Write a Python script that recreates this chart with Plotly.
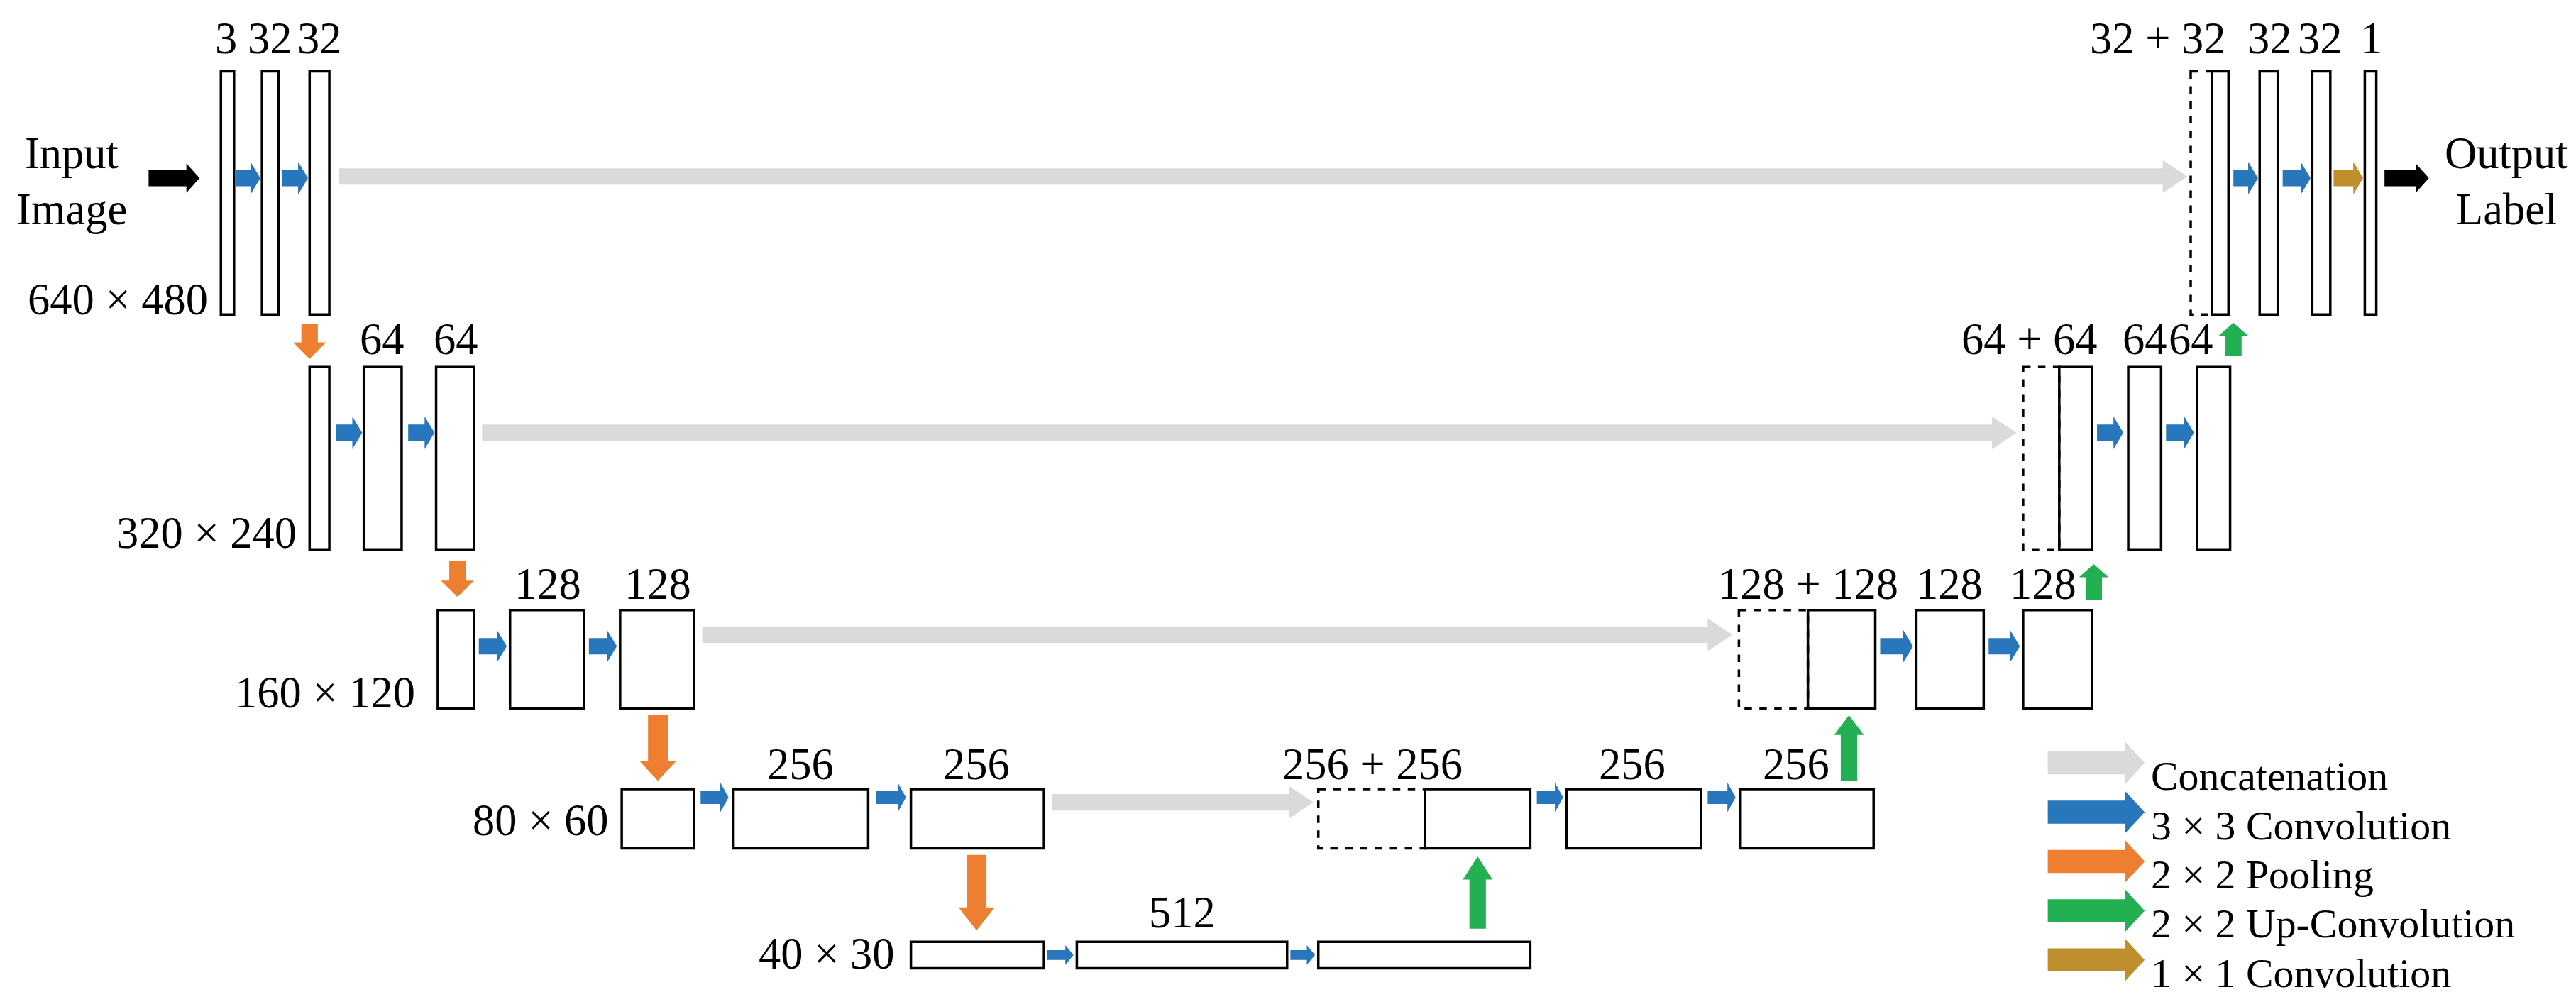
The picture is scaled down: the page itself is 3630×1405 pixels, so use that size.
import plotly.graph_objects as go

W, H = 1568, 607
S = 3630 / 1568
FONT = "Liberation Serif"

# boxes: (x0, x1, y0, y1, dashed)
boxes = [
    (131, 139, 40, 188, False), (156, 166, 40, 188, False), (185, 197, 40, 188, False),
    (1330, 1343, 40, 188, True), (1343, 1353, 40, 188, False), (1372, 1383, 40, 188, False),
    (1404, 1415, 40, 188, False), (1436, 1443, 40, 188, False),
    (185, 197, 220, 331, False), (218, 241, 220, 331, False), (262, 285, 220, 331, False),
    (1228, 1250, 220, 331, True), (1250, 1270, 220, 331, False), (1292, 1312, 220, 331, False),
    (1334, 1354, 220, 331, False),
    (263, 285, 368, 428, False), (307, 352, 368, 428, False), (374, 419, 368, 428, False),
    (1055, 1097, 368, 428, True), (1097, 1138, 368, 428, False), (1163, 1204, 368, 428, False),
    (1228, 1270, 368, 428, False),
    (375, 419, 477, 513, False), (443, 525, 477, 513, False), (551, 632, 477, 513, False),
    (799, 864, 477, 513, True), (864, 928, 477, 513, False), (950, 1032, 477, 513, False),
    (1056, 1137, 477, 513, False),
    (551, 632, 570, 586, False), (652, 780, 570, 586, False), (799, 928, 570, 586, False),
]

# horizontal arrows: (x_start, x_end, y, shaft_half, head_half, head_len, color)
GRAY, BLUE, ORANGE, GREEN, GOLD, BLACK = "#d9dadb", "#2876bb", "#ee7f31", "#22b052", "#bf8f2e", "#000000"
h_arrows = [
    (87, 118, 105, 5, 9, 8, BLACK), (1448, 1475, 105, 5, 9, 8, BLACK),
    (140, 155, 105, 5, 10, 6, BLUE), (168, 184, 105, 5, 10, 6, BLUE),
    (1356, 1371, 105, 5, 10, 6, BLUE), (1386, 1403, 105, 5, 10, 6, BLUE),
    (1417, 1435, 105, 5, 10, 6, GOLD),
    (203, 1328, 104, 5, 10, 15, GRAY), (290, 1224, 260, 5, 10, 15, GRAY),
    (424, 1051, 383, 5, 10, 15, GRAY), (637, 796, 485, 5, 10, 15, GRAY),
    (201, 217, 260, 5, 10, 6, BLUE), (245, 261, 260, 5, 10, 6, BLUE),
    (1273, 1289, 260, 5, 10, 6, BLUE), (1315, 1332, 260, 5, 10, 6, BLUE),
    (288, 305, 390, 5, 10, 6, BLUE), (355, 372, 390, 5, 10, 6, BLUE),
    (1141, 1161, 390, 5, 10, 6, BLUE), (1207, 1226, 390, 5, 10, 6, BLUE),
    (423, 440, 482, 4, 9, 5, BLUE), (530, 548, 482, 4, 9, 5, BLUE),
    (932, 948, 482, 4, 9, 5, BLUE), (1036, 1053, 482, 4, 9, 5, BLUE),
    (634, 650, 578, 3, 6, 5, BLUE), (782, 797, 578, 3, 6, 5, BLUE),
]
# vertical arrows: (x, y_start, y_end, shaft_half, head_half, head_len, color)
v_arrows = [
    (185, 194, 215, 5, 10, 10, ORANGE), (275, 338, 360, 5, 10, 10, ORANGE),
    (397, 432, 472, 6, 11, 12, ORANGE), (591, 517, 563, 6, 11, 14, ORANGE),
    (1356, 213, 193, 5, 9, 8, GREEN), (1271, 362, 340, 5, 9, 8, GREEN),
    (1122, 472, 432, 5, 9, 12, GREEN), (896, 562, 518, 5, 9, 14, GREEN),
]

legend_labels = ["Concatenation", "3 × 3 Convolution", "2 × 2 Pooling", "2 × 2 Up-Convolution", "1 × 1 Convolution"]
legend_colors = [GRAY, BLUE, ORANGE, GREEN, GOLD]
legend_y = [461, 491, 521, 551, 581]

# text labels: (x, y, text, anchor)
labels = [
    (134, 20, "3", "center"), (161, 20, "32", "center"), (191, 20, "32", "center"),
    (1310, 20, "32 + 32", "center"), (1378, 20, "32", "center"), (1409, 20, "32", "center"), (1440, 20, "1", "center"),
    (229, 203, "64", "center"), (274, 203, "64", "center"),
    (1232, 203, "64 + 64", "center"), (1302, 203, "64", "center"), (1330, 203, "64", "center"),
    (330, 352, "128", "center"), (397, 352, "128", "center"),
    (1097, 352, "128 + 128", "center"), (1183, 352, "128", "center"), (1240, 352, "128", "center"),
    (484, 462, "256", "center"), (591, 462, "256", "center"),
    (832, 462, "256 + 256", "center"), (990, 462, "256", "center"), (1090, 462, "256", "center"),
    (716, 552, "512", "center"),
    (124, 179, "640 × 480", "right"), (178, 321, "320 × 240", "right"), (250, 418, "160 × 120", "right"),
    (368, 496, "80 × 60", "right"), (542, 577, "40 × 30", "right"),
    (40, 90, "Input", "center"), (40, 124, "Image", "center"),
    (1522, 90, "Output", "center"), (1522, 124, "Label", "center"),
]

fig = go.Figure()

def poly_path(pts):
    return "M " + " L ".join(f"{x},{y}" for x, y in pts) + " Z"

shapes = []
for x0, x1, y0, y1, d in boxes:
    shapes.append(dict(type="rect", x0=x0, x1=x1, y0=y0, y1=y1, xref="x", yref="y",
                       line=dict(color="black", width=3.5, dash="dash" if d else "solid"),
                       fillcolor="rgba(0,0,0,0)"))

def harrow(xs, xe, y, t, h, hl, c):
    pts = [(xs, y - t), (xe - hl, y - t), (xe - hl, y - h), (xe, y), (xe - hl, y + h), (xe - hl, y + t), (xs, y + t)]
    shapes.append(dict(type="path", path=poly_path(pts), xref="x", yref="y", fillcolor=c, line=dict(width=0)))

def varrow(x, ys, ye, t, h, hl, c):
    sgn = 1 if ye > ys else -1
    yb = ye - sgn * hl
    pts = [(x - t, ys), (x - t, yb), (x - h, yb), (x, ye), (x + h, yb), (x + t, yb), (x + t, ys)]
    shapes.append(dict(type="path", path=poly_path(pts), xref="x", yref="y", fillcolor=c, line=dict(width=0)))

for a in h_arrows:
    harrow(*a)
for a in v_arrows:
    varrow(*a)
for c, y in zip(legend_colors, legend_y):
    harrow(1243, 1302, y, 7, 13, 12, c)

anns = []
for x, y, t, anc in labels:
    anns.append(dict(x=x, y=y, text=t, xref="x", yref="y", showarrow=False, xanchor=anc, yanchor="middle",
                     font=dict(family=FONT, size=27 * S, color="black")))
for lab, y in zip(legend_labels, legend_y):
    anns.append(dict(x=1305, y=y + 8, text=lab, xref="x", yref="y", showarrow=False, xanchor="left", yanchor="middle",
                     font=dict(family=FONT, size=25 * S, color="black")))

fig.update_layout(
    width=3630, height=1405, margin=dict(l=0, r=0, t=0, b=0),
    paper_bgcolor="white", plot_bgcolor="white", showlegend=False,
    xaxis=dict(range=[0, W], visible=False, fixedrange=True),
    yaxis=dict(range=[H, 0], visible=False, fixedrange=True),
    shapes=shapes, annotations=anns,
)
fig.write_html("out.html")
